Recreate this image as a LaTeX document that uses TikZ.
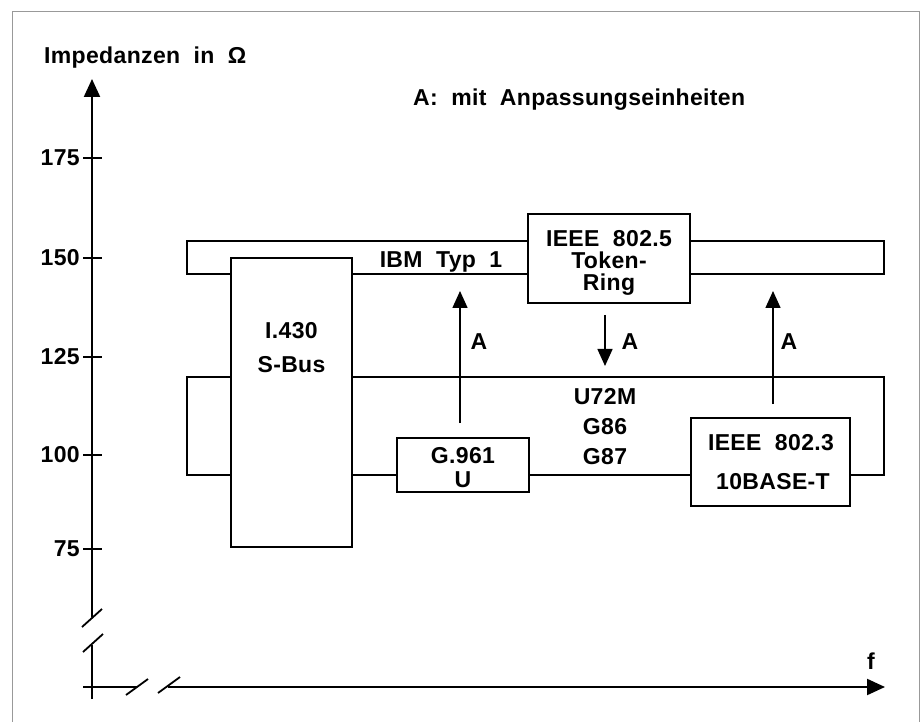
\documentclass[tikz,border=0pt]{standalone}
\usepackage{fontspec}
\setmainfont{Liberation Sans}[BoldFont={* Bold},LetterSpace=1.5,WordSpace=2.0]
\usetikzlibrary{arrows.meta}
\begin{document}
\begin{tikzpicture}[x=1pt,y=-1pt,
  txt/.style={font=\fontsize{23}{26}\selectfont\bfseries, inner sep=0pt},
  boxc/.style={draw, line width=1.6pt, fill=white, inner sep=0pt},
  bar/.style={draw, line width=1.6pt, inner sep=0pt},
  axis/.style={line width=2.2pt, -{Triangle[length=18pt,width=16pt]}},
  arr/.style={line width=1.5pt, -{Triangle[length=17pt,width=15pt]}},
  tick/.style={line width=1.8pt},
  brk/.style={line width=1.8pt}]
\useasboundingbox (0,0) rectangle (922,722);
% frame
\draw[line width=1pt, black!40] (12,722) -- (12,12) -- (919,12) -- (919,722);
% axes
\coordinate (yb) at (92,699);
\coordinate (ybrk1) at (92,645);
\coordinate (ybrk2) at (92,617);
\coordinate (ytop) at (92,79);
\draw[line width=2.2pt] (yb) -- (ybrk1);
\draw[axis] (ybrk2) -- (ytop);
\coordinate (y1a) at (82,627); \coordinate (y1b) at (102,609);
\coordinate (y2a) at (83,652); \coordinate (y2b) at (103,634);
\draw[brk] (y1a) -- (y1b);
\draw[brk] (y2a) -- (y2b);
\coordinate (xl) at (83,687);
\coordinate (xbrk1) at (137,687);
\coordinate (xbrk2) at (168,687);
\coordinate (xr) at (885,687);
\draw[line width=2.2pt] (xl) -- (xbrk1);
\draw[axis] (xbrk2) -- (xr);
\coordinate (x1a) at (126,695); \coordinate (x1b) at (148,679);
\coordinate (x2a) at (158,693); \coordinate (x2b) at (180,677);
\draw[brk] (x1a) -- (x1b);
\draw[brk] (x2a) -- (x2b);
% ticks and labels
\foreach \v/\yy in {175/158,150/258,125/357,100/455,75/549}{
  \coordinate (t\v a) at (83,\yy); \coordinate (t\v b) at (102,\yy);
  \draw[tick] (t\v a) -- (t\v b);
  \node[txt, anchor=east] (l\v) at (80,\yy) {\v};
}
\node[txt, anchor=base west] (ylab) at (44,64) {Impedanzen in \char"03A9};
\node[txt, anchor=base] (flab) at (871,669) {f};
\node[txt, anchor=base west] (title) at (413,106) {A: mit Anpassungseinheiten};
% bars
\node[bar, minimum width=697pt, minimum height=33pt] (ibm) at (535.5,257.5) {};
\node[bar, minimum width=697pt, minimum height=98pt] (low) at (535.5,426) {};
% boxes
\node[boxc, minimum width=121pt, minimum height=289pt] (i430) at (291.5,402.5) {};
\node[boxc, minimum width=162pt, minimum height=89pt] (tok) at (609,258.5) {};
\node[boxc, minimum width=132pt, minimum height=54pt] (g961) at (463,465) {};
\node[boxc, minimum width=159pt, minimum height=88pt] (e8023) at (770.5,462) {};
% texts
\node[txt, anchor=base] (tibm) at (441,268) {IBM Typ 1};
\node[txt, anchor=base] (tt1) at (609,247) {IEEE 802.5};
\node[txt, anchor=base] (tt2) at (609,269) {Token-};
\node[txt, anchor=base] (tt3) at (609,291) {Ring};
\node[txt, anchor=base] (ti1) at (291.5,338) {I.430};
\node[txt, anchor=base] (ti2) at (291.5,373) {S-Bus};
\node[txt, anchor=base] (tg1) at (463,463) {G.961};
\node[txt, anchor=base] (tg2) at (463,487) {U};
\node[txt, anchor=base] (tu1) at (605,404) {U72M};
\node[txt, anchor=base] (tu2) at (605,434) {G86};
\node[txt, anchor=base] (tu3) at (605,464) {G87};
\node[txt, anchor=base] (te1) at (771,450) {IEEE 802.3};
\node[txt, anchor=base] (te2) at (773,489) {10BASE-T};
% arrows
\coordinate (a1s) at (460,423); \coordinate (a1e) at (460,291);
\coordinate (a2s) at (605,315); \coordinate (a2e) at (605,366);
\coordinate (a3s) at (773,404); \coordinate (a3e) at (773,291);
\draw[arr] (a1s) -- (a1e);
\draw[arr] (a2s) -- (a2e);
\draw[arr] (a3s) -- (a3e);
\node[txt, anchor=base] (A1) at (479,350) {A};
\node[txt, anchor=base] (A2) at (630,350) {A};
\node[txt, anchor=base] (A3) at (789,350) {A};
\end{tikzpicture}
\end{document}
